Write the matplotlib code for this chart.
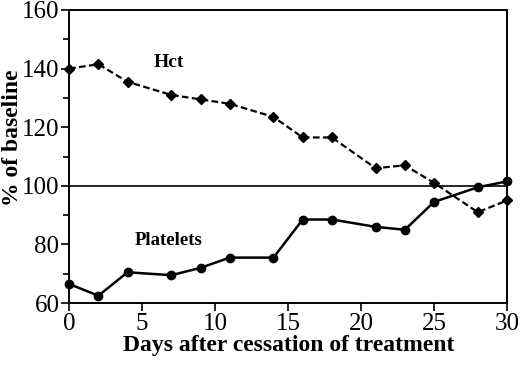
import matplotlib
matplotlib.use("Agg")
import matplotlib.pyplot as plt
from matplotlib.ticker import MultipleLocator

days = [0, 2, 4, 7, 9, 11, 14, 16, 18, 21, 23, 25, 28, 30]
hct = [140, 141.5, 135.5, 131, 129.5, 128, 123.5, 116.5, 116.5, 106, 107, 101, 91, 95]
platelets = [66.5, 62.5, 70.5, 69.5, 72, 75.5, 75.5, 88.5, 88.5, 86, 85, 94.5, 99.5, 101.5]

plt.rcParams['font.family'] = ['Liberation Serif', 'DejaVu Serif']

fig = plt.figure(figsize=(5.2, 3.7), dpi=100)
ax = fig.add_axes([0.133, 0.181, 0.842, 0.792])

ax.plot(days, hct, color='black', linestyle='--', dashes=(3, 1.5), linewidth=1.6,
        marker='D', markersize=5.5, clip_on=False, zorder=3)
ax.plot(days, platelets, color='black', linestyle='-', linewidth=1.8,
        marker='o', markersize=6, clip_on=False, zorder=3)
ax.axhline(100, color='black', linewidth=1.2)

# series labels
ax.text(6.8, 142, 'Hct', fontsize=14, fontweight='bold', ha='center', va='center')
ax.text(6.8, 81.5, 'Platelets', fontsize=13.5, fontweight='bold', ha='center', va='center')

ax.set_xlim(0, 30)
ax.set_ylim(60, 160)
ax.xaxis.set_major_locator(MultipleLocator(5))
ax.yaxis.set_major_locator(MultipleLocator(20))
ax.yaxis.set_minor_locator(MultipleLocator(10))
ax.tick_params(axis='both', which='major', direction='out', length=6, width=1.2,
               labelsize=18, pad=1)
ax.tick_params(axis='y', which='minor', direction='out', length=4, width=1.2)
ax.tick_params(axis='x', which='minor', bottom=False)

for s in ax.spines.values():
    s.set_linewidth(1.4)

ax.set_xlabel('Days after cessation of treatment', fontsize=17, fontweight='bold')
ax.set_ylabel('% of baseline', fontsize=17, fontweight='bold')
ax.xaxis.set_label_coords(0.501, -0.108)
ax.yaxis.set_label_coords(-0.106, 0.563)

fig.savefig('out.png', dpi=100)
